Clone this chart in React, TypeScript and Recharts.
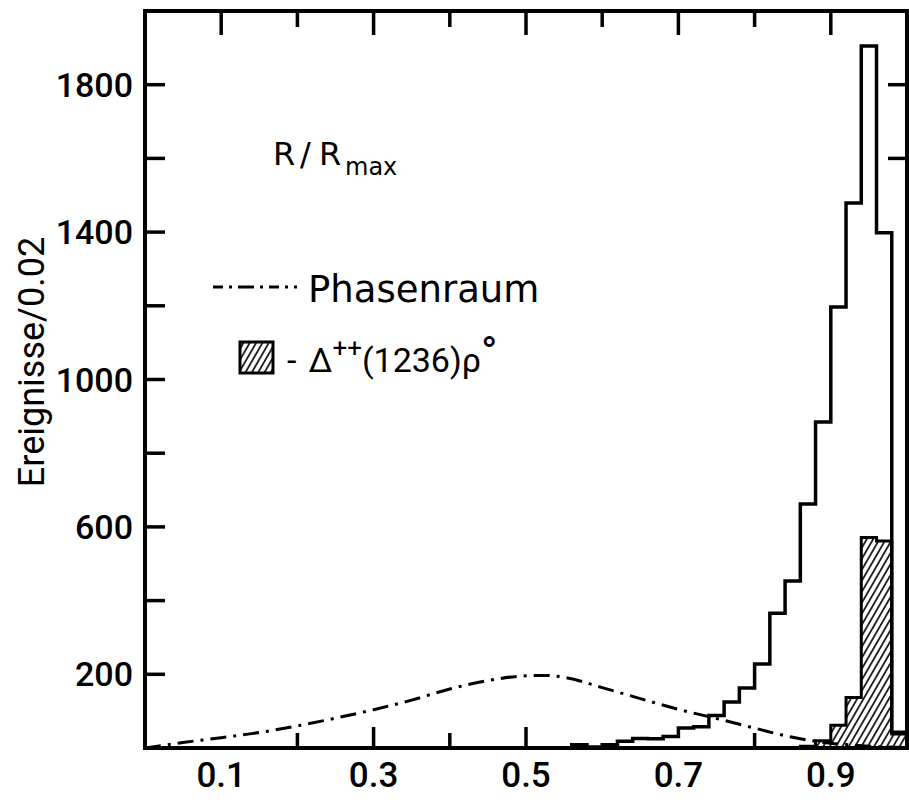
import { ComposedChart, Line, Area, XAxis, YAxis } from "recharts";

// bin lower edges (width 0.02) and counts
const BIN_EDGES = [
  0.54, 0.56, 0.58, 0.6, 0.62, 0.64, 0.66, 0.68, 0.7, 0.72, 0.74, 0.76,
  0.78, 0.8, 0.82, 0.84, 0.86, 0.88, 0.9, 0.92, 0.94, 0.96, 0.98, 1.0,
];
const ALL_EVENTS = [
  0, 9, 3, 9, 18, 26, 25, 31, 54, 58, 88, 125, 163, 228, 366, 453, 662, 885,
  1197, 1479, 1905, 1398, 43, 0,
];

const DELTA_EDGES = [0.84, 0.86, 0.88, 0.9, 0.92, 0.94, 0.96, 0.98, 1.0];
const DELTA_RHO = [0, 5, 20, 62, 137, 571, 562, 38, 0];

const PHASE_X = [
  0, 0.05, 0.1, 0.15, 0.2, 0.25, 0.3, 0.35, 0.4, 0.45, 0.5, 0.525, 0.55, 0.6,
  0.65, 0.7, 0.75, 0.8, 0.85, 0.9, 0.95, 1.0,
];
const PHASE_Y = [
  0, 15, 28, 42, 60, 81, 104, 130, 160, 183, 196, 197, 192, 164, 134, 105, 80,
  54, 29, 13, 5, 1,
];

const X_TICKS = [0.1, 0.2, 0.3, 0.4, 0.5, 0.6, 0.7, 0.8, 0.9];
const X_LABELS = ["0.1", "0.3", "0.5", "0.7", "0.9"];
// bottom tick marks that show in the original (others are missing there)
const X_BOTTOM_MARKS = ["0.2", "0.3", "0.4", "0.5", "0.8"];
const Y_TICKS = [200, 400, 600, 800, 1000, 1200, 1400, 1600, 1800];
const Y_LABELS = ["200", "600", "1000", "1400", "1800"];
const Y_RIGHT_MARKS = ["1600", "1800"];

const INK = "#000";
const AXIS = { stroke: INK, strokeWidth: 4, strokeLinecap: "square" as const };
const NUM_FONT = "Roboto, 'DejaVu Sans', sans-serif";
const TXT_FONT = "'DejaVu Sans', sans-serif";

const fmtX = (v: number) => v.toFixed(1);

function BottomTick(props: any) {
  const { x, y, payload } = props;
  const label = fmtX(payload.value);
  const major = X_LABELS.includes(label);
  return (
    <g>
      {X_BOTTOM_MARKS.includes(label) && (
        <line x1={x} x2={x} y1={y} y2={y - (major ? 21 : 15)} stroke={INK} strokeWidth={3.5} />
      )}
      {major && (
        <text x={x} y={y + 39} textAnchor="middle" fontFamily={NUM_FONT} fontWeight={500} fontSize={35} fill={INK}>
          {label}
        </text>
      )}
    </g>
  );
}

function TopTick(props: any) {
  const { x, y, payload } = props;
  const major = X_LABELS.includes(fmtX(payload.value));
  return <line x1={x} x2={x} y1={y} y2={y + (major ? 24 : 16)} stroke={INK} strokeWidth={3.5} />;
}

function LeftTick(props: any) {
  const { x, y, payload } = props;
  const label = String(payload.value);
  return (
    <g>
      <line x1={x} x2={x + 20} y1={y} y2={y} stroke={INK} strokeWidth={3.5} />
      {Y_LABELS.includes(label) && (
        <text x={x - 12} y={y + 12} textAnchor="end" fontFamily={NUM_FONT} fontWeight={500} fontSize={34} fill={INK}>
          {label}
        </text>
      )}
    </g>
  );
}

function RightTick(props: any) {
  const { x, y, payload } = props;
  if (!Y_RIGHT_MARKS.includes(String(payload.value))) return <g />;
  return <line x1={x} x2={x - 19} y1={y} y2={y} stroke={INK} strokeWidth={3.5} />;
}

export default function App() {
  const allData = BIN_EDGES.map((x, i) => ({ x, n: ALL_EVENTS[i] }));
  const deltaData = DELTA_EDGES.map((x, i) => ({ x, n: DELTA_RHO[i] }));
  const phaseData = PHASE_X.map((x, i) => ({ x, n: PHASE_Y[i] }));

  return (
    <div style={{ position: "absolute", left: 0, top: 0, width: 909, height: 802, background: "#fff" }}>
      <svg width={0} height={0} style={{ position: "absolute" }}>
        <defs>
          <pattern id="hatch" patternUnits="userSpaceOnUse" width={5.5} height={10} patternTransform="rotate(30)">
            <line x1={2.75} x2={2.75} y1={0} y2={10} stroke={INK} strokeWidth={1.6} />
          </pattern>
        </defs>
      </svg>
      <ComposedChart width={909} height={802} margin={{ top: 0, right: 0, bottom: 0, left: 0 }}>
        <XAxis
          xAxisId="b"
          dataKey="x"
          type="number"
          domain={[0, 1]}
          ticks={X_TICKS}
          interval={0}
          orientation="bottom"
          height={54}
          tickSize={0}
          tickMargin={0}
          tickLine={false}
          axisLine={AXIS}
          tick={(p: any) => <BottomTick {...p} />}
          allowDataOverflow
        />
        <XAxis
          xAxisId="t"
          dataKey="x"
          type="number"
          domain={[0, 1]}
          ticks={X_TICKS}
          interval={0}
          orientation="top"
          height={11}
          tickSize={0}
          tickMargin={0}
          tickLine={false}
          axisLine={AXIS}
          tick={(p: any) => <TopTick {...p} />}
          allowDataOverflow
        />
        <YAxis
          yAxisId="l"
          type="number"
          domain={[0, 2000]}
          ticks={Y_TICKS}
          interval={0}
          width={145}
          tickSize={0}
          tickMargin={0}
          tickLine={false}
          axisLine={AXIS}
          tick={(p: any) => <LeftTick {...p} />}
          allowDataOverflow
        />
        <YAxis
          yAxisId="r"
          orientation="right"
          type="number"
          domain={[0, 2000]}
          ticks={Y_TICKS}
          interval={0}
          width={2}
          tickSize={0}
          tickMargin={0}
          tickLine={false}
          axisLine={AXIS}
          tick={(p: any) => <RightTick {...p} />}
          allowDataOverflow
        />
        <Area
          xAxisId="b"
          yAxisId="l"
          data={deltaData}
          dataKey="n"
          type="stepAfter"
          fill="url(#hatch)"
          fillOpacity={1}
          stroke={INK}
          strokeWidth={3}
          isAnimationActive={false}
        />
        <Line
          xAxisId="b"
          yAxisId="l"
          data={allData}
          dataKey="n"
          type="stepAfter"
          stroke={INK}
          strokeWidth={3.5}
          dot={false}
          isAnimationActive={false}
        />
        <Line
          xAxisId="b"
          yAxisId="l"
          data={phaseData}
          dataKey="n"
          type="monotone"
          stroke={INK}
          strokeWidth={3}
          strokeDasharray="16 7 3 7"
          dot={false}
          isAnimationActive={false}
        />
      </ComposedChart>
      <svg
        width={909}
        height={802}
        style={{ position: "absolute", left: 0, top: 0, pointerEvents: "none" }}
      >
        <text
          transform="translate(44,362) rotate(-90)"
          textAnchor="middle"
          fontFamily={NUM_FONT}
          fontSize={36}
          fill={INK}
        >
          Ereignisse/0.02
        </text>
        <text y={165} fontFamily={TXT_FONT} fontSize={32} fill={INK}>
          <tspan x={273}>R</tspan>
          <tspan x={300}>/</tspan>
          <tspan x={319}>R</tspan>
        </text>
        <text x={345} y={175} fontFamily={TXT_FONT} fontSize={24} fill={INK}>
          max
        </text>
        <line x1={213} x2={297} y1={287} y2={287} stroke={INK} strokeWidth={3} strokeDasharray="10 6 3 6 16 6 3 6" />
        <text x={308} y={302} fontFamily={TXT_FONT} fontSize={37} fill={INK}>
          Phasenraum
        </text>
        <rect x={240} y={342} width={33} height={31} fill="url(#hatch)" stroke={INK} strokeWidth={3} />
        <text x={287} y={372} fontFamily={NUM_FONT} fontSize={34} fill={INK}>
          -
          <tspan dx={12}>Δ</tspan>
          <tspan dy={-15} fontSize={26}>++</tspan>
          <tspan dy={15}>(1236)ρ</tspan>
          <tspan dy={-4} fontSize={44}>°</tspan>
        </text>
      </svg>
    </div>
  );
}
